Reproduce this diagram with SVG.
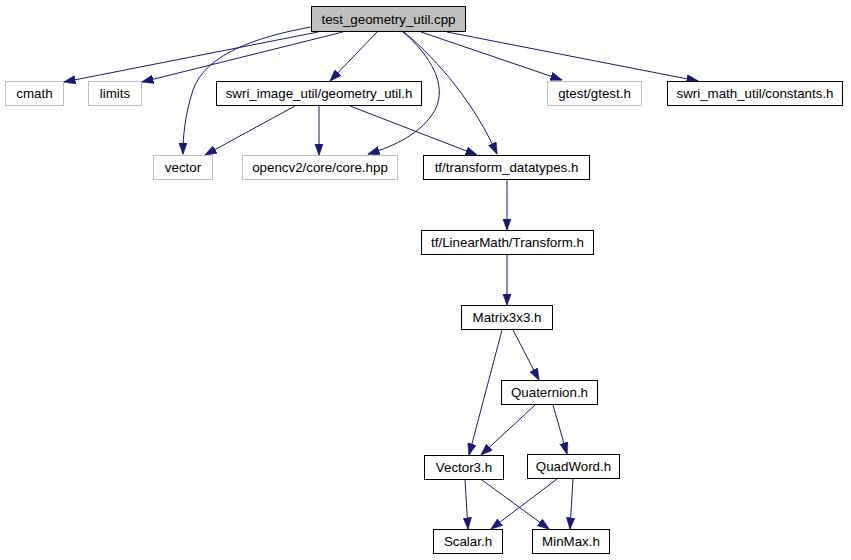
<svg xmlns="http://www.w3.org/2000/svg" width="851" height="560" viewBox="0 0 851 560">
<defs>
<style>
.n rect{fill:#ffffff;stroke:#000000;stroke-width:1}
.g rect{fill:#ffffff;stroke:#bfbfbf;stroke-width:1}
.r rect{fill:#bfbfbf;stroke:#000000;stroke-width:1}
text{font-family:"Liberation Sans",Arial,Helvetica,sans-serif;font-size:13.33px;fill:#000000;text-anchor:middle}
.e path{fill:none;stroke:#191970;stroke-width:1;marker-end:url(#ah)}
</style>
<marker id="ah" markerUnits="userSpaceOnUse" markerWidth="12" markerHeight="9" refX="11.5" refY="4.3" orient="auto">
<path d="M0,0 L12,4.3 L0,8.6 z" fill="#191970" stroke="#191970" stroke-width="0.5"/>
</marker>
</defs>
<rect width="851" height="560" fill="#ffffff"/>
<g class="e" id="edges">
<path d="M318,32 L64,82"/>
<path d="M343,32 L142,82"/>
<path d="M311,27 C255,37 205,55 193,90 C185,115 183,135 183,154"/>
<path d="M377,32 L330,81"/>
<path d="M403,32 C430,55 448,85 435,110 C422,133 395,146 368,154"/>
<path d="M404,32 C440,62 475,105 497,154"/>
<path d="M421,32 L562,80"/>
<path d="M447,32 L698,81"/>
<path d="M295,106 L205,155"/>
<path d="M319,106 L319,155"/>
<path d="M350,106 L477,155"/>
<path d="M507,180 L507,230"/>
<path d="M507,255 L507,305"/>
<path d="M502,330 L469,455"/>
<path d="M513,330 L539,380"/>
<path d="M535,405 L481,455"/>
<path d="M553,405 L567,454"/>
<path d="M465,480 L468,529"/>
<path d="M482,480 L549,529"/>
<path d="M557,479 L491,529"/>
<path d="M573,479 L570,529"/>
</g>
<g id="root" class="r"><rect x="311.5" y="6.5" width="154" height="25"/><text x="388.5" y="23.5">test_geometry_util.cpp</text></g>
<g id="cmath" class="g"><rect x="5.5" y="81.5" width="58" height="24"/><text x="34.5" y="98">cmath</text></g>
<g id="limits" class="g"><rect x="88.5" y="81.5" width="53" height="24"/><text x="115" y="98">limits</text></g>
<g id="geometry_util" class="n"><rect x="216.5" y="81.5" width="205" height="24"/><text x="319" y="98">swri_image_util/geometry_util.h</text></g>
<g id="gtest" class="g"><rect x="547.5" y="81.5" width="94" height="24"/><text x="594.5" y="98">gtest/gtest.h</text></g>
<g id="constants" class="n"><rect x="667.5" y="81.5" width="175" height="24"/><text x="755" y="98">swri_math_util/constants.h</text></g>
<g id="vector" class="g"><rect x="153.5" y="155.5" width="59" height="24"/><text x="183" y="172">vector</text></g>
<g id="core" class="g"><rect x="242.5" y="155.5" width="155" height="24"/><text x="320" y="172">opencv2/core/core.hpp</text></g>
<g id="transform_datatypes" class="n"><rect x="423.5" y="155.5" width="166" height="24"/><text x="506.5" y="172">tf/transform_datatypes.h</text></g>
<g id="Transform" class="n"><rect x="421.5" y="230.5" width="172" height="24"/><text x="507.5" y="247">tf/LinearMath/Transform.h</text></g>
<g id="Matrix3x3" class="n"><rect x="461.5" y="305.5" width="91" height="24"/><text x="507" y="322">Matrix3x3.h</text></g>
<g id="Quaternion" class="n"><rect x="501.5" y="380.5" width="96" height="24"/><text x="549.5" y="397">Quaternion.h</text></g>
<g id="Vector3" class="n"><rect x="424.5" y="455.5" width="79" height="24"/><text x="464" y="472">Vector3.h</text></g>
<g id="QuadWord" class="n"><rect x="527.5" y="454.5" width="92" height="24"/><text x="573.5" y="471">QuadWord.h</text></g>
<g id="Scalar" class="n"><rect x="433.5" y="529.5" width="69" height="24"/><text x="468" y="546">Scalar.h</text></g>
<g id="MinMax" class="n"><rect x="532.5" y="529.5" width="77" height="24"/><text x="571" y="546">MinMax.h</text></g>
</svg>
